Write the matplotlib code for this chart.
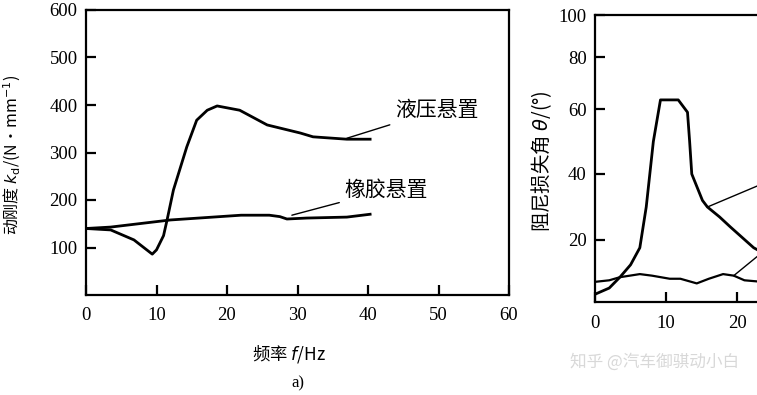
import numpy as np
import matplotlib
matplotlib.use('Agg')
import matplotlib.pyplot as plt
from matplotlib.ticker import FixedLocator

plt.rcParams['font.family'] = ['Liberation Serif', 'Noto Sans CJK SC', 'DejaVu Sans']

# left panel: dynamic stiffness
freq_hyd = [0, 3.5, 6.8, 9.4, 10, 11, 11.5, 12.4, 14.3, 15.7, 17.2, 18.6, 21.8, 25.7, 30.4, 32.2, 37, 40.3]
kd_hyd = [140, 137, 116, 86, 95, 125, 158, 221, 312, 368, 389, 398, 389, 358, 341, 333, 328, 328]
freq_rub = [0, 3.5, 12, 20, 22, 26, 27.5, 28.5, 31.3, 37, 40.3]
kd_rub = [140, 143, 158, 166, 168, 168, 165, 160, 162, 164, 170]

# right panel: loss angle (cropped)
freq_peak = [0, 2, 3.5, 5, 6.3, 7.2, 8.2, 9.2, 11.7, 13.0, 13.3, 13.6, 15.1, 15.8, 17.5, 19.0, 22.3, 23.5]
ang_peak = [2.5, 4.5, 8, 12, 17.5, 30, 50, 63.5, 63.5, 59, 50, 40, 32, 30, 27, 24, 17.5, 16]
freq_wave = [0, 2, 3.5, 6.3, 8, 10.5, 12, 14.3, 16, 18.0, 19.5, 21, 23.5]
ang_wave = [6.5, 7, 8, 9, 8.5, 7.5, 7.5, 6, 7.5, 9, 8.5, 7, 6.5]
lead1_x, lead1_y = [15.8, 23.5], [30, 37]
lead2_x, lead2_y = [19.5, 23.5], [8.5, 16]

# uneven vertical spacing of the scanned right axis
ang_ticks = [0, 20, 40, 60, 80, 100]
ang_pos = [0, 62, 128, 193, 245, 287]


def fwd(v):
    v = np.asarray(v, dtype=float)
    return np.interp(v, ang_ticks, ang_pos) + np.where(v < 0, v * 3.1, 0) + np.where(v > 100, (v - 100) * 2.1, 0)


def inv(p):
    p = np.asarray(p, dtype=float)
    return np.interp(p, ang_pos, ang_ticks) + np.where(p < 0, p / 3.1, 0) + np.where(p > 287, (p - 287) / 2.1, 0)


fig = plt.figure(figsize=(7.57, 3.95), dpi=100)
ax = fig.add_axes([86 / 757, 1 - 295 / 395, 423 / 757, 285 / 395])
ax2 = fig.add_axes([595 / 757, 1 - 302 / 395, 185 / 757, 287 / 395])

lw = 2.0
ax.plot(freq_hyd, kd_hyd, color='black', lw=lw)
ax.plot(freq_rub, kd_rub, color='black', lw=lw)
ax.set_xlim(0, 60)
ax.set_ylim(0, 600)
ax.set_xticks([0, 10, 20, 30, 40, 50, 60])
ax.set_yticks([100, 200, 300, 400, 500, 600])
ax.annotate('液压悬置', xy=(37, 330), xytext=(43.8, 389), fontsize=15,
            family=['Noto Sans CJK SC'], va='center', ha='left',
            arrowprops=dict(arrowstyle='-', color='black', lw=1, shrinkA=2, shrinkB=0))
ax.annotate('橡胶悬置', xy=(29.2, 168), xytext=(36.7, 221), fontsize=15,
            family=['Noto Sans CJK SC'], va='center', ha='left',
            arrowprops=dict(arrowstyle='-', color='black', lw=1, shrinkA=2, shrinkB=0))
ax.set_ylabel('动刚度 $k_\\mathrm{d}$/(N·mm$^{-1}$)', fontsize=11.5,
              family=['Noto Sans CJK SC', 'DejaVu Sans'])
ax.yaxis.set_label_coords(-0.15, 0.49)
ax.set_xlabel('频率 $f$/Hz', fontsize=12.5, family=['Noto Sans CJK SC', 'DejaVu Sans'])
ax.xaxis.set_label_coords(0.48, -0.17)
ax.text(0.5, -0.31, 'a)', transform=ax.transAxes, ha='center', va='center', fontsize=12)

ax2.plot(freq_peak, ang_peak, color='black', lw=lw)
ax2.plot(freq_wave, ang_wave, color='black', lw=1.6)
ax2.plot(lead1_x, lead1_y, color='black', lw=1)
ax2.plot(lead2_x, lead2_y, color='black', lw=1)
ax2.set_yscale('function', functions=(fwd, inv))
ax2.set_xlim(0, 26)
ax2.set_ylim(0, 100)
ax2.yaxis.set_major_locator(FixedLocator([20, 40, 60, 80, 100]))
ax2.yaxis.set_minor_locator(FixedLocator([]))
ax2.set_xticks([0, 10, 20])
ax2.spines['right'].set_visible(False)
ax2.set_ylabel('阻尼损失角 $\\theta$/(°)', fontsize=14,
               family=['Noto Sans CJK SC', 'DejaVu Sans'])
ax2.yaxis.set_label_coords(-0.22, 0.49)

for a in (ax, ax2):
    for s in a.spines.values():
        s.set_linewidth(1.6)
    a.tick_params(direction='in', length=7, width=1.6, labelsize=13.5, pad=6)
    a.tick_params(axis='x', pad=9)

fig.text(655 / 757, 1 - 362 / 395, '知乎 @汽车御骐动小白', fontsize=12, color='#d8d8d8',
         family=['Noto Sans CJK SC'], ha='center', va='center')

fig.savefig('out.png', dpi=100)
